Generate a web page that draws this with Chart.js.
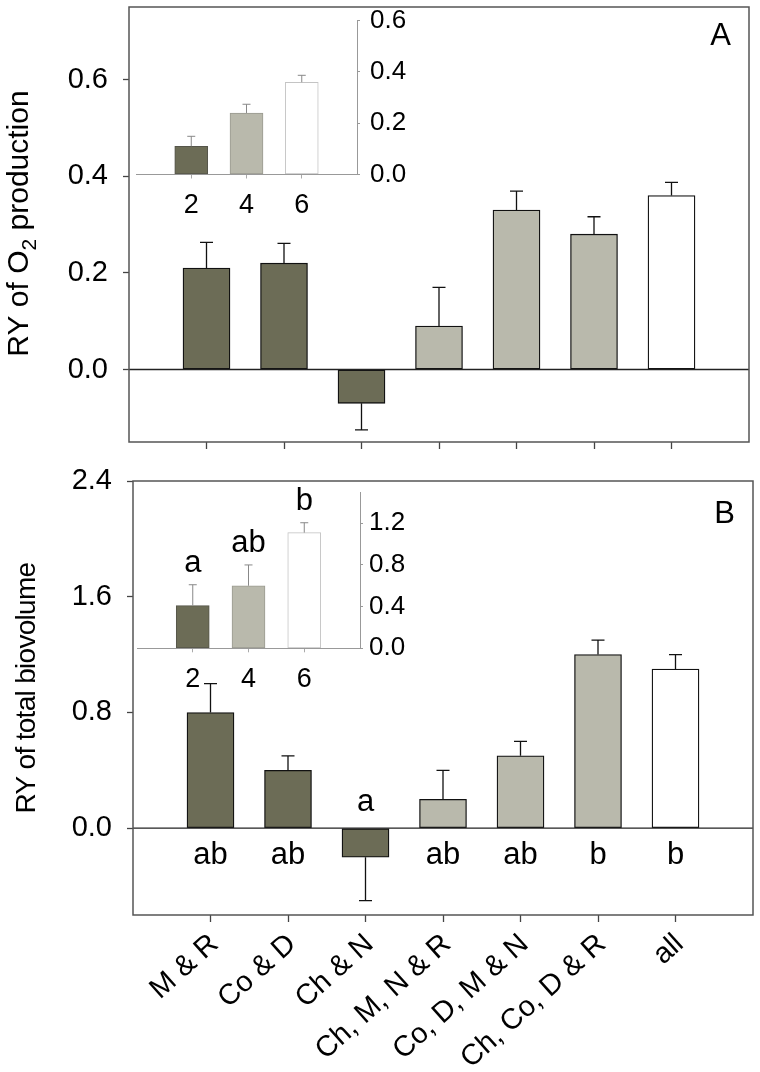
<!DOCTYPE html>
<html lang="en">
<head>
<meta charset="UTF-8">
<title>RY of O2 production and total biovolume</title>
<script src="https://cdn.jsdelivr.net/npm/chart.js@4.4.1/dist/chart.umd.min.js"></script>
<style>
  body { margin: 0; background: #fff; }
  #wrap { position: relative; width: 760px; height: 1072px; }
  canvas { position: absolute; }
</style>
</head>
<body>
<div id="wrap">
  <canvas id="mainA" width="760" height="460" style="left:0;top:0"></canvas>
  <canvas id="mainB" width="760" height="612" style="left:0;top:460px"></canvas>
  <canvas id="insetA" width="330" height="232" style="left:100px;top:0"></canvas>
  <canvas id="insetB" width="330" height="225" style="left:100px;top:470px"></canvas>
</div>
<script>
// main panels: species combinations
const categories = ['M & R', 'Co & D', 'Ch & N', 'Ch, M, N & R', 'Co, D, M & N', 'Ch, Co, D & R', 'all'];
const richness = [2, 2, 2, 4, 4, 4, 6];
const o2Values = [0.21, 0.22, -0.07, 0.09, 0.33, 0.28, 0.36];
const o2Errors = [0.053, 0.041, 0.055, 0.080, 0.039, 0.036, 0.027];
const o2Ticks = [0, 0.2, 0.4, 0.6];
const bioValues = [0.80, 0.40, -0.20, 0.20, 0.50, 1.20, 1.10];
const bioErrors = [0.20, 0.10, 0.30, 0.20, 0.10, 0.10, 0.10];
const bioLetters = ['ab', 'ab', 'a', 'ab', 'ab', 'b', 'b'];
const bioTicks = [0, 0.8, 1.6, 2.4];

// insets: mean per richness level
const insetLevels = ['2', '4', '6'];
const insetRichness = [2, 4, 6];
const insetO2Values = [0.11, 0.24, 0.36];
const insetO2Errors = [0.039, 0.034, 0.027];
const insetO2Ticks = [0, 0.2, 0.4, 0.6];
const insetBioValues = [0.41, 0.60, 1.11];
const insetBioErrors = [0.20, 0.20, 0.095];
const insetBioLetters = ['a', 'ab', 'b'];
const insetBioTicks = [0, 0.4, 0.8, 1.2];

const FONT = "'Liberation Sans', Arial, sans-serif";
const fillByRichness = { 2: '#6c6c56', 4: '#b9b9ac', 6: '#ffffff' };
const insetEdge = { 2: '#55554a', 4: '#9a9a90', 6: '#c4c4c4' };

// force axis size and drop the extra padding chart.js adds for labels
function sizeScale(size) {
  return function (scale) {
    if (scale.isHorizontal()) scale.height = size; else scale.width = size;
    scale.paddingTop = scale.paddingBottom = scale.paddingLeft = scale.paddingRight = 0;
  };
}

function errorBars(values, errors, color, width, cap) {
  return {
    id: 'errorBars',
    afterDatasetsDraw(chart) {
      const ctx = chart.ctx, y = chart.scales.y;
      ctx.save();
      ctx.strokeStyle = color;
      ctx.lineWidth = width;
      chart.getDatasetMeta(0).data.forEach((bar, i) => {
        const v = values[i], e = errors[i];
        const end = y.getPixelForValue(v >= 0 ? v + e : v - e);
        ctx.beginPath();
        ctx.moveTo(bar.x, bar.y);
        ctx.lineTo(bar.x, end);
        ctx.moveTo(bar.x - cap, end);
        ctx.lineTo(bar.x + cap, end);
        ctx.stroke();
      });
      ctx.restore();
    }
  };
}

// frame, zero line, panel letter and y title (with subscript parts)
function decor(o) {
  return {
    id: 'decor',
    afterDatasetsDraw(chart) {
      const ctx = chart.ctx, a = chart.chartArea, y = chart.scales.y;
      ctx.save();
      const z = y.getPixelForValue(0);
      ctx.strokeStyle = '#222';
      ctx.lineWidth = 1.3;
      ctx.beginPath();
      ctx.moveTo(a.left, z);
      ctx.lineTo(a.right, z);
      ctx.stroke();
      ctx.strokeStyle = '#555';
      ctx.lineWidth = 1.5;
      ctx.strokeRect(a.left, a.top, a.right - a.left, a.bottom - a.top);

      ctx.fillStyle = '#000';
      ctx.font = '31px ' + FONT;
      ctx.textAlign = 'right';
      ctx.textBaseline = 'alphabetic';
      ctx.fillText(o.letter, a.right - 18, a.top + o.letterDy);

      // rotated y title
      ctx.letterSpacing = o.spacing || '0px';
      let total = 0;
      o.title.forEach(p => { ctx.font = p.s + 'px ' + FONT; p.w = ctx.measureText(p.t).width; total += p.w; });
      ctx.translate(o.titleX, (a.top + a.bottom) / 2 + o.titleDy);
      ctx.rotate(-Math.PI / 2);
      ctx.textAlign = 'left';
      let x = -total / 2;
      o.title.forEach(p => {
        ctx.font = p.s + 'px ' + FONT;
        ctx.fillText(p.t, x, p.dy || 0);
        x += p.w;
      });
      ctx.restore();
    }
  };
}

function mainChart(id, o) {
  return new Chart(document.getElementById(id), {
    type: 'bar',
    data: {
      datasets: [{
        data: o.values.map((v, i) => ({ x: i + 1, y: v })),
        backgroundColor: richness.map(r => fillByRichness[r]),
        borderColor: '#111',
        borderWidth: 1.3,
        borderSkipped: false,
        barThickness: 47
      }]
    },
    options: {
      responsive: false,
      animation: false,
      layout: { padding: o.padding },
      plugins: { legend: { display: false }, tooltip: { enabled: false } },
      scales: {
        x: {
          type: 'linear', min: 0, max: categories.length + 1, offset: false,
          afterBuildTicks: s => { s.ticks = categories.map((c, i) => ({ value: i + 1 })); },
          afterFit: sizeScale(o.xHeight),
          grid: { drawOnChartArea: false, offset: false, tickLength: 7, tickColor: '#444', tickWidth: 1.3 },
          border: { display: false },
          ticks: {
            display: o.showLabels, autoSkip: false, minRotation: 42, maxRotation: 42,
            padding: 5, labelOffset: 4, color: '#000',
            font: { family: FONT, size: 29 },
            callback: v => categories[v - 1]
          }
        },
        y: {
          min: o.min, max: o.max,
          afterBuildTicks: s => { s.ticks = o.ticks.map(v => ({ value: v })); },
          afterFit: sizeScale(o.yWidth),
          grid: { drawOnChartArea: false, tickLength: 6, tickColor: '#444', tickWidth: 1.3 },
          border: { display: false },
          ticks: { padding: 15, color: '#000', font: { family: FONT, size: 29 }, callback: v => v.toFixed(1) }
        }
      }
    },
    plugins: o.plugins
  });
}

function insetChart(id, o) {
  return new Chart(document.getElementById(id), {
    type: 'bar',
    data: {
      datasets: [{
        data: o.values.map((v, i) => ({ x: i + 1, y: v })),
        backgroundColor: insetRichness.map(r => fillByRichness[r]),
        borderColor: insetRichness.map(r => insetEdge[r]),
        borderWidth: 1,
        borderSkipped: false,
        barThickness: 33
      }]
    },
    options: {
      responsive: false,
      animation: false,
      layout: { padding: o.padding },
      plugins: { legend: { display: false }, tooltip: { enabled: false } },
      scales: {
        x: {
          type: 'linear', min: 0, max: insetLevels.length + 1, offset: false,
          afterBuildTicks: s => { s.ticks = insetLevels.map((c, i) => ({ value: i + 1 })); },
          afterFit: sizeScale(o.xHeight),
          grid: { drawOnChartArea: false, offset: false, tickLength: 4, tickColor: '#aaa' },
          border: { display: true, color: '#999', width: 1 },
          ticks: { autoSkip: false, maxRotation: 0, padding: 11, color: '#000', font: { family: FONT, size: 27 }, callback: v => insetLevels[v - 1] }
        },
        y: {
          position: 'right', min: 0, max: o.max,
          afterBuildTicks: s => { s.ticks = o.ticks.map(v => ({ value: v })); },
          afterFit: sizeScale(o.yWidth),
          grid: { drawOnChartArea: false, tickLength: 3, tickColor: '#999' },
          border: { display: true, color: '#999', width: 1 },
          ticks: { padding: o.tickPad, color: '#000', font: { family: FONT, size: 26 }, callback: v => v.toFixed(1) }
        }
      }
    },
    plugins: o.plugins
  });
}

function letters(labels, values, errors, mode) {
  return {
    id: 'letters',
    afterDatasetsDraw(chart) {
      const ctx = chart.ctx, y = chart.scales.y, z = y.getPixelForValue(0);
      ctx.save();
      ctx.fillStyle = '#000';
      ctx.font = '31px ' + FONT;
      ctx.textAlign = 'center';
      ctx.textBaseline = 'alphabetic';
      chart.getDatasetMeta(0).data.forEach((bar, i) => {
        let ty;
        if (mode === 'top') ty = y.getPixelForValue(values[i] + errors[i]) - 13;
        else ty = values[i] >= 0 ? z + 36 : z - 17;
        ctx.fillText(labels[i], bar.x, ty);
      });
      ctx.restore();
    }
  };
}

mainChart('mainA', {
  values: o2Values, min: -0.15, max: 0.75, ticks: o2Ticks,
  padding: { left: 0, top: 7, right: 11, bottom: 0 }, xHeight: 18, yWidth: 129, showLabels: false,
  plugins: [
    errorBars(o2Values, o2Errors, '#111', 1.3, 6.5),
    decor({ letter: 'A', letterDy: 38, titleX: 28, titleDy: -1,
      title: [{ t: 'RY of O', s: 30 }, { t: '2', s: 21, dy: 8 }, { t: ' production', s: 30 }] })
  ]
});

mainChart('mainB', {
  values: bioValues, min: -0.6, max: 2.4, ticks: bioTicks,
  padding: { left: 0, top: 21, right: 7, bottom: 0 }, xHeight: 157, yWidth: 133, showLabels: true,
  plugins: [
    errorBars(bioValues, bioErrors, '#111', 1.3, 6.5),
    letters(bioLetters, bioValues, bioErrors, 'zero'),
    decor({ letter: 'B', letterDy: 42, titleX: 35, titleDy: -10, spacing: '-0.7px',
      title: [{ t: 'RY of total biovolume', s: 28 }] })
  ]
});

insetChart('insetA', {
  values: insetO2Values, max: 0.6, ticks: insetO2Ticks, tickPad: 10,
  padding: { left: 36, top: 20.7, right: 0, bottom: 0 }, xHeight: 57.5, yWidth: 73,
  plugins: [errorBars(insetO2Values, insetO2Errors, '#888', 1, 4)]
});

insetChart('insetB', {
  values: insetBioValues, max: 1.5, ticks: insetBioTicks, tickPad: 6,
  padding: { left: 37, top: 22, right: 0, bottom: 0 }, xHeight: 46.7, yWidth: 70,
  plugins: [
    errorBars(insetBioValues, insetBioErrors, '#888', 1, 4),
    letters(insetBioLetters, insetBioValues, insetBioErrors, 'top')
  ]
});
</script>
</body>
</html>
